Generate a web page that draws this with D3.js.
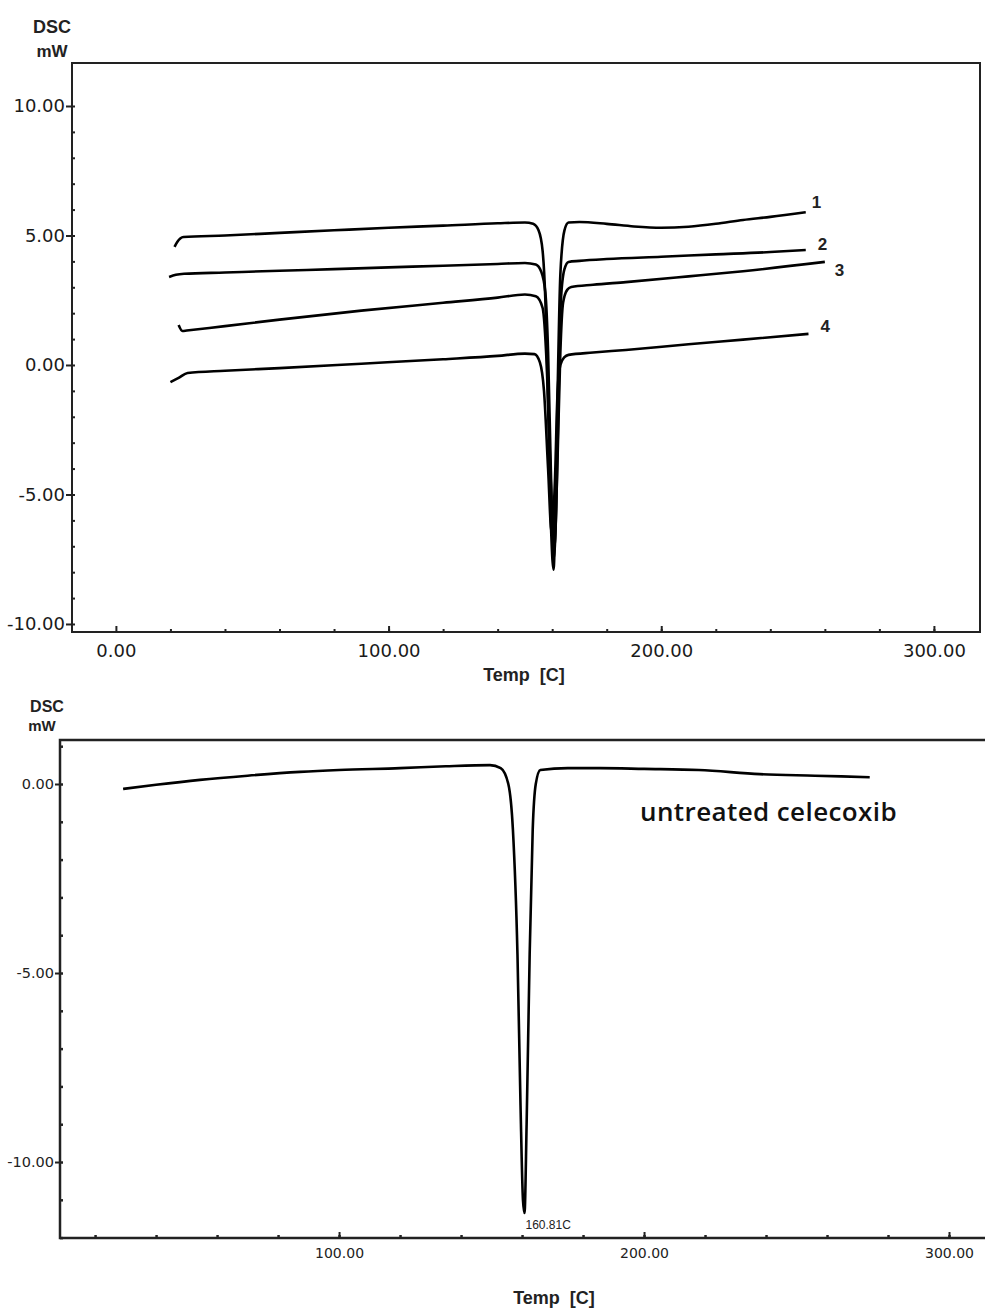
<!DOCTYPE html>
<html>
<head>
<meta charset="utf-8">
<script src="https://cdn.jsdelivr.net/npm/d3@7"></script>
<style>
  body { margin: 0; background: #fff; }
  svg { display: block; }
</style>
</head>
<body>
<div id="chart"></div>
<script>
/* DATA */
// top panel: four DSC traces (Temp in C, heat flow in mW)
const temp1 = [21.5, 22.5, 24.8, 40, 60, 80, 100, 120, 140, 150, 153, 155, 156.5, 157.5, 158.5, 159.5, 160.5, 161.3, 162, 163, 164.5, 166, 170, 180, 190, 200, 210, 220, 230, 240, 253];
const dsc1  = [4.56, 4.75, 4.94, 5.0, 5.1, 5.2, 5.3, 5.38, 5.47, 5.5, 5.45, 5.2, 4.4, 2.5, -1.5, -6.0, -7.9, -5.0, -1.0, 3.5, 5.2, 5.5, 5.52, 5.45, 5.35, 5.3, 5.34, 5.45, 5.6, 5.72, 5.9];

const temp2 = [19.5, 22, 25, 40, 60, 80, 100, 120, 140, 150, 154, 156, 157.5, 158.5, 159.5, 160.5, 161.5, 162.3, 163.2, 164.5, 166, 170, 180, 200, 220, 240, 253];
const dsc2  = [3.4, 3.48, 3.52, 3.57, 3.64, 3.7, 3.77, 3.83, 3.9, 3.94, 3.88, 3.6, 2.8, 0.5, -4.0, -7.5, -5.5, -1.5, 2.5, 3.7, 3.98, 4.02, 4.09, 4.18, 4.27, 4.36, 4.44];

const temp3 = [23, 24.4, 26, 40, 60, 90, 120, 140, 150, 154, 156.5, 158, 159.5, 160.8, 162, 163, 164, 165.5, 167, 175, 187, 210, 230, 260];
const dsc3  = [1.54, 1.31, 1.33, 1.5, 1.75, 2.1, 2.4, 2.6, 2.72, 2.65, 2.2, 0.0, -4.5, -7.0, -3.5, 0.5, 2.4, 2.9, 3.01, 3.1, 3.2, 3.42, 3.62, 3.98];

const temp4 = [20, 23, 26.3, 40, 60, 90, 120, 140, 150, 153.5, 155.5, 157, 158.5, 159.8, 161, 162, 163, 164.5, 166, 175, 187, 210, 230, 254];
const dsc4  = [-0.66, -0.5, -0.31, -0.22, -0.12, 0.05, 0.22, 0.35, 0.44, 0.42, 0.1, -1.0, -4.0, -6.5, -4.5, -1.0, 0.0, 0.3, 0.39, 0.48, 0.58, 0.8, 0.98, 1.2];

const curveNames = ["1", "2", "3", "4"];

// bottom panel: untreated celecoxib
const tempU = [29.2, 40, 54.4, 70, 87.2, 100, 120, 135, 149.5, 153, 155.5, 157, 158.5, 159.5, 160.3, 160.81, 161.5, 162.5, 163.5, 164.5, 166, 175, 185.6, 200, 218, 238, 256, 274];
const dscU  = [-0.13, -0.02, 0.11, 0.22, 0.32, 0.37, 0.42, 0.47, 0.5, 0.42, 0.0, -1.2, -4.5, -8.5, -11.0, -11.35, -9.0, -4.5, -1.2, 0.0, 0.37, 0.42, 0.42, 0.4, 0.37, 0.26, 0.22, 0.18];
const peakLabel = "160.81C";
const sampleLabel = "untreated celecoxib";

// tick values
const topXTicks = [0, 100, 200, 300];
const topYTicks = [10, 5, 0, -5, -10];
const botXTicks = [100, 200, 300];
const botYTicks = [0, -5, -10];

/* CONSTANTS */
const width = 985, height = 1309;
const numFont = "DejaVu Sans, sans-serif";
const titleFont = "Liberation Sans, Arial, sans-serif";
// plain hyphen for negatives, like the instrument software
const fmt = d => d3.format(".2f")(d).replace("\u2212", "-");

const svg = d3.select("#chart").append("svg")
  .attr("width", width)
  .attr("height", height);

const zip = (xs, ys) => xs.map((x, i) => ({ t: x, v: ys[i] }));

/* TOP PANEL */
const x1 = d3.scaleLinear().domain([-16.1, 316.9]).range([72, 980]);
const y1 = d3.scaleLinear().domain([-10.31, 11.66]).range([632, 63]);

const topPanel = svg.append("g");

topPanel.append("rect")
  .attr("x", 72).attr("y", 63)
  .attr("width", 980 - 72).attr("height", 632 - 63)
  .attr("fill", "none").attr("stroke", "#222").attr("stroke-width", 2);

// minor ticks
topPanel.append("g")
  .attr("transform", "translate(0,632)")
  .call(d3.axisBottom(x1).tickValues(d3.range(20, 301, 20)).tickSize(-3).tickFormat(""))
  .call(g => g.select(".domain").remove())
  .selectAll("line").attr("stroke", "#222").attr("stroke-width", 2);

topPanel.append("g")
  .attr("transform", "translate(72,0)")
  .call(d3.axisLeft(y1).tickValues(d3.range(-10, 11, 1)).tickSize(-3).tickFormat(""))
  .call(g => g.select(".domain").remove())
  .selectAll("line").attr("stroke", "#222").attr("stroke-width", 2);

// major ticks + labels
const topX = topPanel.append("g")
  .attr("transform", "translate(0,632)")
  .call(d3.axisBottom(x1).tickValues(topXTicks).tickSizeInner(-6).tickSizeOuter(0).tickPadding(12)
    .tickFormat(fmt));
topX.select(".domain").remove();
topX.selectAll("line").attr("stroke", "#222").attr("stroke-width", 2);
topX.selectAll("text").attr("font-family", numFont).attr("font-size", 18).attr("fill", "#1a1a1a");

const topY = topPanel.append("g")
  .attr("transform", "translate(72,0)")
  .call(d3.axisLeft(y1).tickValues(topYTicks).tickSizeInner(6).tickSizeOuter(0).tickPadding(1)
    .tickFormat(fmt));
topY.select(".domain").remove();
topY.selectAll("line").attr("stroke", "#222").attr("stroke-width", 2);
topY.selectAll("text").attr("font-family", numFont).attr("font-size", 18).attr("fill", "#1a1a1a");

topPanel.append("text").attr("x", 52).attr("y", 33).attr("text-anchor", "middle")
  .attr("font-family", titleFont).attr("font-weight", "bold").attr("font-size", 18).attr("fill", "#222")
  .text("DSC");
topPanel.append("text").attr("x", 52).attr("y", 57).attr("text-anchor", "middle")
  .attr("font-family", titleFont).attr("font-weight", "bold").attr("font-size", 17).attr("fill", "#222")
  .text("mW");
topPanel.append("text").attr("x", 524).attr("y", 681).attr("text-anchor", "middle")
  .attr("font-family", titleFont).attr("font-weight", "bold").attr("font-size", 18).attr("fill", "#222")
  .attr("xml:space", "preserve")
  .text("Temp  [C]");

const line1 = d3.line().x(d => x1(d.t)).y(d => y1(d.v)).curve(d3.curveMonotoneX);

const topSeries = [zip(temp1, dsc1), zip(temp2, dsc2), zip(temp3, dsc3), zip(temp4, dsc4)];
const labelOffsets = [[6, -4], [12, 0], [10, 14], [12, -2]];

topPanel.selectAll("path.trace")
  .data(topSeries)
  .join("path")
  .attr("class", "trace")
  .attr("fill", "none")
  .attr("stroke", "#000")
  .attr("stroke-width", 2.6)
  .attr("stroke-linejoin", "round")
  .attr("d", line1);

topPanel.selectAll("text.curve-label")
  .data(topSeries)
  .join("text")
  .attr("class", "curve-label")
  .attr("x", (d, i) => x1(d[d.length - 1].t) + labelOffsets[i][0])
  .attr("y", (d, i) => y1(d[d.length - 1].v) + labelOffsets[i][1])
  .attr("font-family", titleFont).attr("font-weight", "bold").attr("font-size", 17).attr("fill", "#222")
  .text((d, i) => curveNames[i]);

/* BOTTOM PANEL */
const x2 = d3.scaleLinear().domain([8.5, 311.8]).range([60, 985]);
const y2 = d3.scaleLinear().domain([-12.01, 1.164]).range([1238, 740]);

const botPanel = svg.append("g");

botPanel.append("path")
  .attr("d", "M985,740H60V1238H985")
  .attr("fill", "none").attr("stroke", "#222").attr("stroke-width", 2.5);

botPanel.append("g")
  .attr("transform", "translate(0,1238)")
  .call(d3.axisBottom(x2).tickValues(d3.range(20, 301, 20)).tickSize(-3).tickFormat(""))
  .call(g => g.select(".domain").remove())
  .selectAll("line").attr("stroke", "#222").attr("stroke-width", 2.5);

botPanel.append("g")
  .attr("transform", "translate(60,0)")
  .call(d3.axisLeft(y2).tickValues(d3.range(-12, 2, 1)).tickSize(-3).tickFormat(""))
  .call(g => g.select(".domain").remove())
  .selectAll("line").attr("stroke", "#222").attr("stroke-width", 2.5);

const botX = botPanel.append("g")
  .attr("transform", "translate(0,1238)")
  .call(d3.axisBottom(x2).tickValues(botXTicks).tickSizeInner(-6).tickSizeOuter(0).tickPadding(10)
    .tickFormat(fmt));
botX.select(".domain").remove();
botX.selectAll("line").attr("stroke", "#222").attr("stroke-width", 2);
botX.selectAll("text").attr("font-family", numFont).attr("font-size", 14).attr("fill", "#222");

const botY = botPanel.append("g")
  .attr("transform", "translate(60,0)")
  .call(d3.axisLeft(y2).tickValues(botYTicks).tickSizeInner(5).tickSizeOuter(0).tickPadding(1)
    .tickFormat(fmt));
botY.select(".domain").remove();
botY.selectAll("line").attr("stroke", "#222").attr("stroke-width", 2);
botY.selectAll("text").attr("font-family", numFont).attr("font-size", 14.5).attr("fill", "#222");

botPanel.append("text").attr("x", 47).attr("y", 712).attr("text-anchor", "middle")
  .attr("font-family", titleFont).attr("font-weight", "bold").attr("font-size", 16).attr("fill", "#222")
  .text("DSC");
botPanel.append("text").attr("x", 42).attr("y", 731).attr("text-anchor", "middle")
  .attr("font-family", titleFont).attr("font-weight", "bold").attr("font-size", 15).attr("fill", "#222")
  .text("mW");
botPanel.append("text").attr("x", 554).attr("y", 1304).attr("text-anchor", "middle")
  .attr("font-family", titleFont).attr("font-weight", "bold").attr("font-size", 18).attr("fill", "#222")
  .attr("xml:space", "preserve")
  .text("Temp  [C]");

const line2 = d3.line().x(d => x2(d.t)).y(d => y2(d.v)).curve(d3.curveMonotoneX);
const untreated = zip(tempU, dscU);

botPanel.append("path")
  .datum(untreated)
  .attr("fill", "none")
  .attr("stroke", "#000")
  .attr("stroke-width", 2.6)
  .attr("stroke-linejoin", "round")
  .attr("d", line2);

const peak = untreated.reduce((a, b) => (b.v < a.v ? b : a));
botPanel.append("text")
  .attr("x", x2(peak.t) + 1).attr("y", y2(peak.v) + 16)
  .attr("font-family", titleFont).attr("font-size", 12).attr("fill", "#222")
  .text(peakLabel);

botPanel.append("text")
  .attr("x", 640).attr("y", 821)
  .attr("font-family", "Open Sans, sans-serif").attr("font-weight", 600)
  .attr("font-size", 26).attr("letter-spacing", 0.4).attr("fill", "#111")
  .text(sampleLabel);
</script>
</body>
</html>
